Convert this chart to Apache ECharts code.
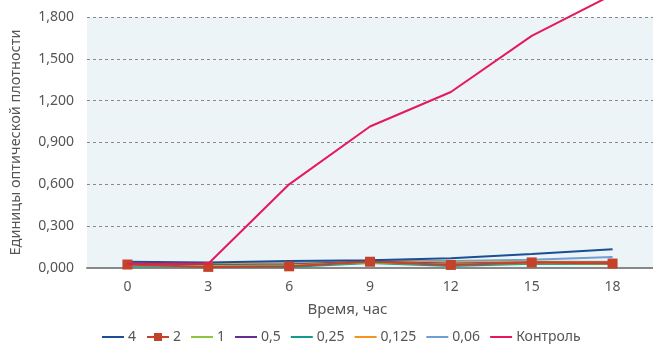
<!DOCTYPE html>
<html><head><meta charset="utf-8">
<script src="https://cdn.jsdelivr.net/npm/echarts@6/dist/echarts.min.js"></script>
<style>html,body{margin:0;padding:0;background:#fff}#c{width:653px;height:344px}</style>
</head><body><div id="c"></div>
<script>
const categories = ['0','3','6','9','12','15','18'];
const yTicks = ['0,000','0,300','0,600','0,900','1,200','1,500','1,800'];
const seriesNames = ['4','2','1','0,5','0,25','0,125','0,06','Контроль'];
const s4 = [0.045,0.04,0.05,0.055,0.07,0.1,0.135];
const s2 = [0.025,0.008,0.012,0.045,0.022,0.04,0.032];
const s1 = [0.02,0.015,0.02,0.04,0.025,0.035,0.03];
const s05 = [0.025,0.02,0.025,0.045,0.03,0.04,0.04];
const s025 = [0.012,0.01,0.008,0.035,0.015,0.03,0.028];
const s0125 = [0.03,0.025,0.028,0.05,0.04,0.045,0.045];
const s006 = [0.035,0.03,0.035,0.05,0.05,0.06,0.078];
const sControl = [0.03,0.03,0.6,1.015,1.262,1.665,1.96];
const colors = ['#1B4F93','#C4412A','#8CC63E','#6B2C91','#139A8F','#F7941D','#6E9FD3','#E5195A'];
const data = [s4,s2,s1,s05,s025,s0125,s006,sControl];
const order = [6,5,4,3,2,0,1,7];
const lineIcon = 'path://M0,0H0.01V0.01H0Z M0,4H22V6H0Z M21.99,9.99H22V10H21.99Z';
const series = seriesNames.map((n,i)=>({
  name:n, type:'line', data:data[i], clip:false,
  symbol: i===1 ? 'rect' : 'none', symbolSize: 10, showSymbol: i===1,
  lineStyle:{color:colors[i], width:2}, itemStyle:{color:colors[i]},
  z: 2 + order.indexOf(i), animation:false
}));
const legendData = seriesNames.map((n,i)=> i===1 ? {name:n, icon:'inherit'} : {name:n, icon:lineIcon});
const chart = echarts.init(document.getElementById('c'));
chart.setOption({
  animation:false,
  textStyle:{fontFamily:'"Noto Sans", sans-serif'},
  grid:{left:86,right:0,top:17,bottom:76,show:true,backgroundColor:'#EDF4F7',borderWidth:0},
  legend:{data:legendData,bottom:0,left:102,padding:0,itemWidth:22,itemHeight:10,itemGap:10,
    textStyle:{color:'#555',fontSize:14,padding:[0,0,0,-1]}},
  xAxis:{type:'category',data:categories,boundaryGap:true,
    name:'Время, час',nameLocation:'middle',nameGap:34,
    nameTextStyle:{color:'#555',fontSize:15,padding:[0,45,0,0]},
    axisLine:{lineStyle:{color:'#888',width:2}},axisTick:{show:false},
    axisLabel:{color:'#555',fontSize:14,margin:12}},
  yAxis:{type:'value',min:0,max:1.8,interval:0.3,
    name:'Единицы оптической плотности',nameLocation:'middle',nameGap:64,
    nameTextStyle:{color:'#555',fontSize:14.5},
    axisLine:{show:false},axisTick:{show:false},
    axisLabel:{color:'#555',fontSize:14,margin:13,formatter:(v)=>yTicks[Math.round(v/0.3)]},
    splitLine:{lineStyle:{color:'#888',type:[3,3],width:1}}},
  series:series
});
</script></body></html>
